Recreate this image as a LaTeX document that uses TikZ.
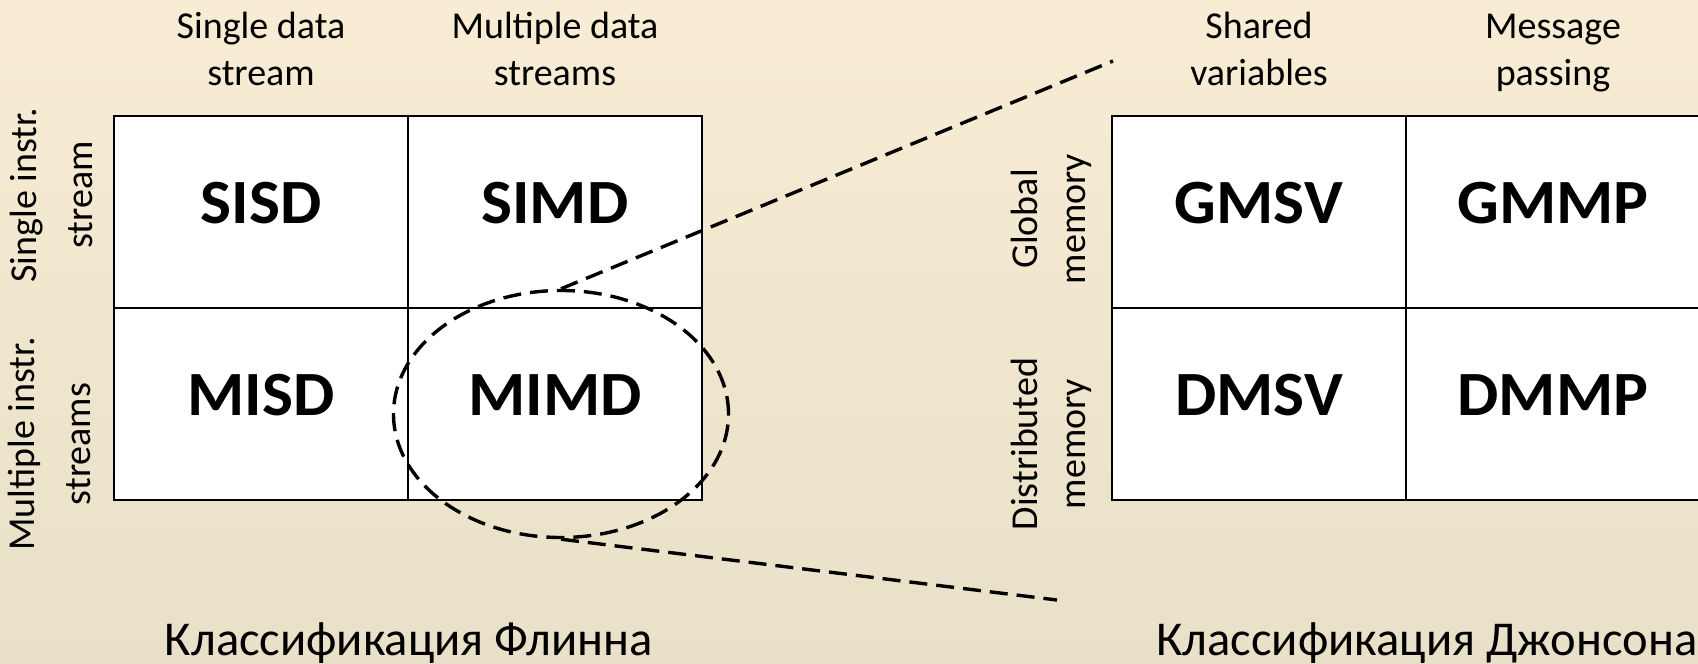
\documentclass[tikz,border=0pt]{standalone}
\usepackage{fontspec}
\setmainfont{Carlito}
\usetikzlibrary{shapes.geometric,positioning}
\definecolor{bgtop}{RGB}{248,236,212}
\definecolor{bgbottom}{RGB}{232,224,200}

\begin{document}
\begin{tikzpicture}[
        x=0.5pt, y=-0.5pt,
        cell/.style={rectangle, draw=black, line width=1pt, fill=white, minimum width=147pt, minimum height=96pt, inner sep=0pt, text height=19.8pt, text depth=8pt, font=\fontsize{31.5}{36}\selectfont\bfseries\addfontfeature{FakeStretch=1.04}},
        colhead/.style={align=center, anchor=base, font=\fontsize{19}{23.5}\selectfont},
        rowhead/.style={align=center, anchor=base, rotate=90, font=\fontsize{19}{28}\selectfont},
        classname/.style={anchor=base, font=\fontsize{24.3}{28}\selectfont},
        zoomline/.style={draw=black, line width=1.7pt, dash pattern=on 9pt off 4.5pt}
    ]
        \useasboundingbox (0,0) rectangle (1698,664);
        \fill[top color=bgtop, bottom color=bgbottom] (0,0) rectangle (1698,664);

        % Flynn
        \node[cell] (sisd) at (261,212) {SISD};
        \node[cell] (simd) at (555,212) {SIMD};
        \node[cell] (misd) at (261,404) {MISD};
        \node[cell] (mimd) at (555,404) {MIMD};
        \node[colhead] (sds) at (261,85) {Single data\\stream};
        \node[colhead] (mds) at (555,85) {Multiple data\\streams};
        \node[rowhead] (sis) at (92,195) {Single instr.\\stream};
        \node[rowhead] (mis) at (90,444) {Multiple instr.\\streams};
        \node[classname] (flynn) at (409,655) {Классификация Флинна};

        % Johnson
        \node[cell] (gmsv) at (1259,212) {GMSV};
        \node[cell] (gmmp) at (1553,212) {GMMP};
        \node[cell] (dmsv) at (1259,404) {DMSV};
        \node[cell] (dmmp) at (1553,404) {DMMP};
        \node[colhead] (shv) at (1259,85) {Shared\\variables};
        \node[colhead] (msp) at (1553,85) {Message\\passing};
        \node[rowhead, font=\fontsize{19}{24}\selectfont] (glm) at (1085,219) {Global\\memory};
        \node[rowhead, font=\fontsize{19}{24}\selectfont] (dsm) at (1085,444) {Distributed\\memory};
        \node[classname] (johnson) at (1427,655) {Классификация Джонсона};

        % zoom from MIMD
        \node[ellipse, zoomline, minimum width=167.5pt, minimum height=123.5pt, inner sep=0pt] (ell) at (561,414) {};
        \coordinate (topend) at (1113,61);
        \coordinate (botend) at (1057,600);
        \draw[zoomline] (ell.north) -- (topend);
        \draw[zoomline] (ell.south) -- (botend);
\end{tikzpicture}
\end{document}
